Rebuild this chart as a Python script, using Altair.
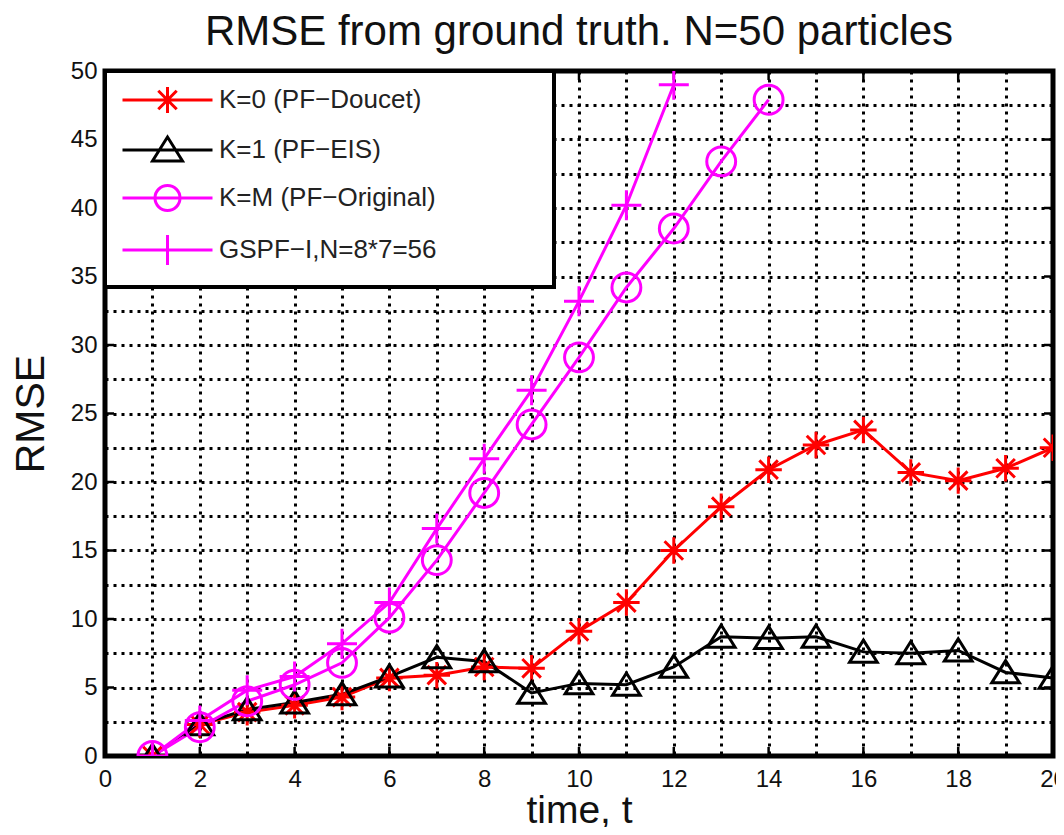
import altair as alt
import pandas as pd

# ---------------- data ----------------
series_names = ["K=0 (PF\u2212Doucet)", "K=1 (PF\u2212EIS)", "K=M (PF\u2212Original)", "GSPF\u2212I,N=8*7=56"]
series_colors = ["#ff0000", "#000000", "#ff00ff", "#ff00ff"]

t_k0 = list(range(1, 21))
rmse_k0 = [0, 2.3, 3.2, 3.7, 4.3, 5.7, 5.9, 6.5, 6.4, 9.1, 11.2, 15.0, 18.2, 20.9, 22.7, 23.8, 20.7, 20.1, 21.0, 22.5]

t_k1 = list(range(1, 21))
rmse_k1 = [0, 2.3, 3.4, 3.9, 4.5, 5.8, 7.2, 6.9, 4.6, 5.3, 5.2, 6.5, 8.7, 8.6, 8.7, 7.6, 7.5, 7.7, 6.1, 5.7]

t_km = list(range(1, 15))
rmse_km = [0, 2.1, 4.0, 5.2, 6.8, 10.1, 14.3, 19.2, 24.2, 29.1, 34.2, 38.5, 43.4, 47.9]

t_gs = list(range(1, 13))
rmse_gs = [0, 2.6, 4.8, 5.8, 8.2, 11.2, 16.6, 21.7, 26.7, 33.2, 40.2, 49.0]

x_grid_values = list(range(0, 21))
y_grid_values = [i * 2.5 for i in range(0, 21)]
x_tick_values = list(range(2, 20, 2))
y_tick_values = list(range(5, 50, 5))
x_domain = [0, 20]
y_domain = [0, 50]

FONT = "Liberation Sans"

# ---------------- tables ----------------
rows = []
for name, ts, vs in zip(series_names,
                        [t_k0, t_k1, t_km, t_gs],
                        [rmse_k0, rmse_k1, rmse_km, rmse_gs]):
    for tt, vv in zip(ts, vs):
        rows.append({"t": tt, "v": vv, "series": name})
df = pd.DataFrame(rows)

xt_df = pd.DataFrame({"t": x_tick_values * 2,
                      "v": [y_domain[0]] * len(x_tick_values) + [y_domain[1]] * len(x_tick_values)})
yt_df = pd.DataFrame({"t": [x_domain[0]] * len(y_tick_values) + [x_domain[1]] * len(y_tick_values),
                      "v": y_tick_values * 2})

# marker shapes (unit paths)
plot_shapes = [
    "M-1,0L1,0M0,-1L0,1M-0.7,-0.7L0.7,0.7M-0.7,0.7L0.7,-0.7",
    "M0,-0.85L1,0.75L-1,0.75Z",
    "circle",
    "M-1,0L1,0M0,-1L0,1",
]
plot_sizes = [700, 900, 600, 900]

# legend symbols: line sample + marker; trailing move widens the legend box
line_seg = "M-1.15,0L7.85,0"
widen = "M39.8,0"
legend_shapes = [
    line_seg + "M2.05,0L4.65,0M3.35,-1.3L3.35,1.3M2.43,-0.92L4.27,0.92M2.43,0.92L4.27,-0.92" + widen,
    line_seg + "M3.35,-1.3L4.85,1.1L1.85,1.1Z" + widen,
    line_seg + "M4.6,0A1.25,1.25 0 1,1 2.1,0A1.25,1.25 0 1,1 4.6,0" + widen,
    line_seg + "M1.85,0L4.85,0M3.35,-1.5L3.35,1.5" + widen,
]

color_scale = alt.Scale(domain=series_names, range=series_colors)

x_enc = alt.X(
    "t:Q",
    scale=alt.Scale(domain=x_domain, nice=False, zero=False),
    axis=alt.Axis(
        values=x_grid_values,
        labelExpr="datum.value % 2 == 0 ? datum.label : ''",
        title="time, t",
        grid=True, ticks=False, domain=False,
        labelFlush=False, labelOverlap=False,
        labelFontSize=24, labelPadding=11, labelColor="#111", labelFont=FONT,
        titleFontSize=39, titlePadding=0, titleColor="#111", titleFont=FONT,
        titleFontWeight="normal",
        gridColor="black", gridWidth=3, gridDash=[3, 5], gridOpacity=1,
    ),
)
y_enc = alt.Y(
    "v:Q",
    scale=alt.Scale(domain=y_domain, nice=False, zero=False),
    axis=alt.Axis(
        values=y_grid_values,
        labelExpr="datum.value % 5 == 0 ? datum.label : ''",
        title="RMSE",
        grid=True, ticks=False, domain=False,
        labelFlush=False, labelOverlap=False,
        labelFontSize=24, labelPadding=8, labelColor="#111", labelFont=FONT,
        titleFontSize=41, titlePadding=18, titleColor="#111", titleFont=FONT,
        titleFontWeight="normal",
        gridColor="black", gridWidth=3, gridDash=[3, 5], gridOpacity=1,
    ),
)

lines = alt.Chart(df).mark_line(strokeWidth=3, clip=True).encode(
    x=x_enc,
    y=y_enc,
    color=alt.Color("series:N", scale=color_scale, legend=None),
    detail="series:N",
)

points = alt.Chart(df).mark_point(filled=False, strokeWidth=3, opacity=1, clip=True).encode(
    x=x_enc,
    y=y_enc,
    color=alt.Color("series:N", scale=color_scale, legend=None),
    shape=alt.Shape("series:N", scale=alt.Scale(domain=series_names, range=plot_shapes), legend=None),
    size=alt.Size("series:N", scale=alt.Scale(domain=series_names, range=plot_sizes), legend=None),
)

leg = alt.Legend(
    title=None, orient="top-left", offset=0, padding=16, rowPadding=12,
    strokeColor="black", fillColor="white",
    labelFont=FONT, labelFontSize=26, labelColor="#222", labelLimit=1000,
    labelOffset=72, symbolSize=400, symbolStrokeWidth=3,
)

legend_layer = alt.Chart(df).transform_filter(alt.datum.v < -1).mark_point(
    filled=False, strokeWidth=3, opacity=1
).encode(
    x=x_enc,
    y=y_enc,
    color=alt.Color("series:N", scale=color_scale, legend=leg),
    shape=alt.Shape("series:N", scale=alt.Scale(domain=series_names, range=legend_shapes), legend=leg),
)

xticks = alt.Chart(xt_df).mark_tick(orient="vertical", size=18, thickness=2.5, color="black",
                                     clip=True, opacity=1).encode(x=x_enc, y=y_enc)
yticks = alt.Chart(yt_df).mark_tick(orient="horizontal", size=18, thickness=2.5, color="black",
                                     clip=True, opacity=1).encode(x=x_enc, y=y_enc)

chart = alt.layer(lines, xticks, yticks, points, legend_layer).resolve_scale(
    color="independent", shape="independent"
).properties(
    width=948, height=685,
    title=alt.Title("RMSE from ground truth. N=50 particles", fontSize=42, font=FONT,
                    fontWeight="normal", color="#111", anchor="middle", frame="group",
                    baseline="alphabetic", offset=7, dy=35),
    padding={"left": 97, "top": 63, "right": 3, "bottom": 71},
    autosize=alt.AutoSizeParams(type="none"),
    background="white",
).configure_view(
    stroke="black", strokeWidth=5
).configure_legend(
    strokeWidth=4
)

chart.save("out.html", embed_options={"renderer": "svg", "actions": False})
